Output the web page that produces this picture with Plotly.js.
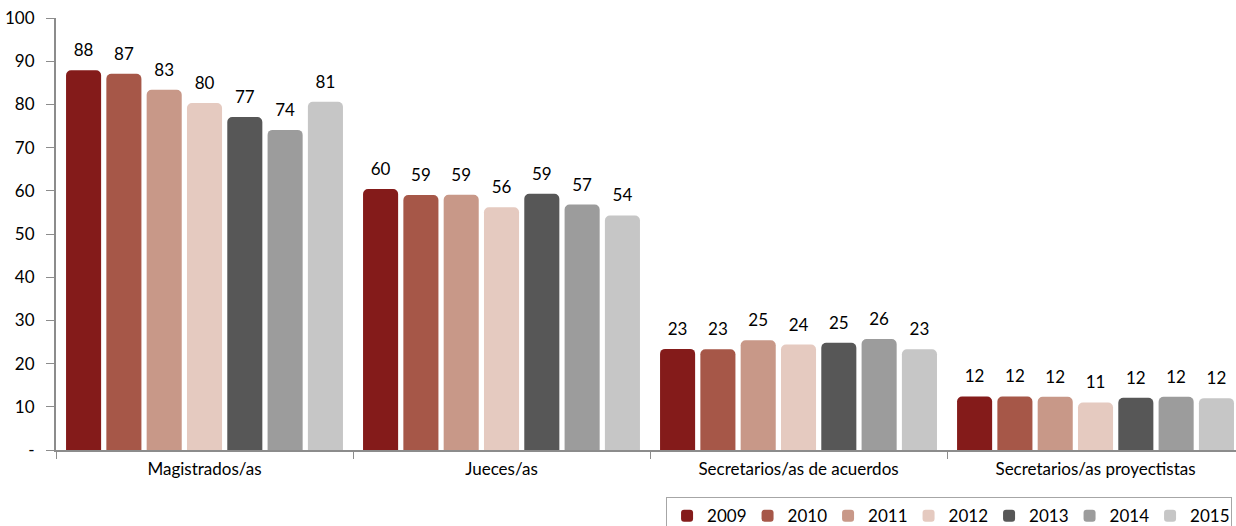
<!DOCTYPE html>
<html>
<head>
<meta charset="utf-8">
<script src="https://cdn.plot.ly/plotly-3.0.1.min.js"></script>
<style>html,body{margin:0;padding:0;background:#fff;}#chart{width:1236px;height:526px;}</style>
</head>
<body>
<div id="chart"></div>
<script>
const categories = ["Magistrados/as", "Jueces/as", "Secretarios/as de acuerdos", "Secretarios/as proyectistas"];
const years = ["2009", "2010", "2011", "2012", "2013", "2014", "2015"];
const v2009 = [87.9, 60.4, 23.4, 12.4];
const v2010 = [87.1, 59.0, 23.3, 12.4];
const v2011 = [83.4, 59.1, 25.4, 12.3];
const v2012 = [80.3, 56.2, 24.4, 11.0];
const v2013 = [77.1, 59.3, 24.8, 12.1];
const v2014 = [74.1, 56.8, 25.7, 12.3];
const v2015 = [80.6, 54.3, 23.3, 12.0];
const seriesValues = [v2009, v2010, v2011, v2012, v2013, v2014, v2015];
const colors = ["#841B1A", "#A65748", "#C89888", "#E5CAC0", "#575757", "#9C9C9C", "#C6C6C6"];
const yTickVals = [0, 10, 20, 30, 40, 50, 60, 70, 80, 90, 100];
const yTickText = ["-", "10", "20", "30", "40", "50", "60", "70", "80", "90", "100"];

const FONT = "Lato, 'Open Sans', sans-serif";
const FS = 17;
const traces = [];
years.forEach((yr, i) => {
  traces.push({
    type: "bar", name: yr, x: categories, y: seriesValues[i],
    marker: {color: colors[i], cornerradius: 5},
    hoverinfo: "x+y+name"
  });
});
years.forEach((yr, i) => {
  traces.push({
    type: "scatter", mode: "markers+text", name: yr, x: categories, y: seriesValues[i],
    showlegend: false, cliponaxis: false,
    marker: {size: 14, opacity: 0, color: colors[i]},
    texttemplate: "%{y:.0f}", textposition: "top center",
    textfont: {family: FONT, size: FS, color: "#000"},
    hoverinfo: "skip"
  });
});

const layout = {
  width: 1236, height: 526,
  margin: {l: 56, r: 0, t: 18, b: 76, autoexpand: false},
  paper_bgcolor: "#fff", plot_bgcolor: "#fff",
  barmode: "group", bargap: 0.05, bargroupgap: 0.13,
  scattermode: "group", scattergap: 0.05,
  font: {family: FONT, size: FS, color: "#000"},
  showlegend: true,
  legend: {
    orientation: "h", x: 0.517, xanchor: "left", y: -0.109, yanchor: "top",
    bordercolor: "#a6a6a6", borderwidth: 1, bgcolor: "#fff",
    font: {family: FONT, size: FS, color: "#000"},
    entrywidth: 35.5, entrywidthmode: "pixels", traceorder: "normal"
  },
  xaxis: {
    type: "category", range: [-0.5, 3.473], fixedrange: true,
    showline: true, linecolor: "#8c8c8c", linewidth: 2,
    ticks: "outside", tickson: "boundaries", ticklen: 7, tickcolor: "#8c8c8c", tickwidth: 1,
    ticklabelstandoff: 3,
    showgrid: false, zeroline: false,
    tickfont: {family: FONT, size: FS, color: "#000"}
  },
  yaxis: {
    range: [0, 100], fixedrange: true,
    showline: true, linecolor: "#8c8c8c", linewidth: 2,
    ticks: "outside", ticklen: 8, tickcolor: "#8c8c8c", tickwidth: 1,
    tickvals: yTickVals, ticktext: yTickText, ticklabelstandoff: 8,
    showgrid: false, zeroline: false,
    tickfont: {family: FONT, size: FS, color: "#000"}
  }
};
Plotly.newPlot("chart", traces, layout, {displayModeBar: false, staticPlot: true});
</script>
</body>
</html>
